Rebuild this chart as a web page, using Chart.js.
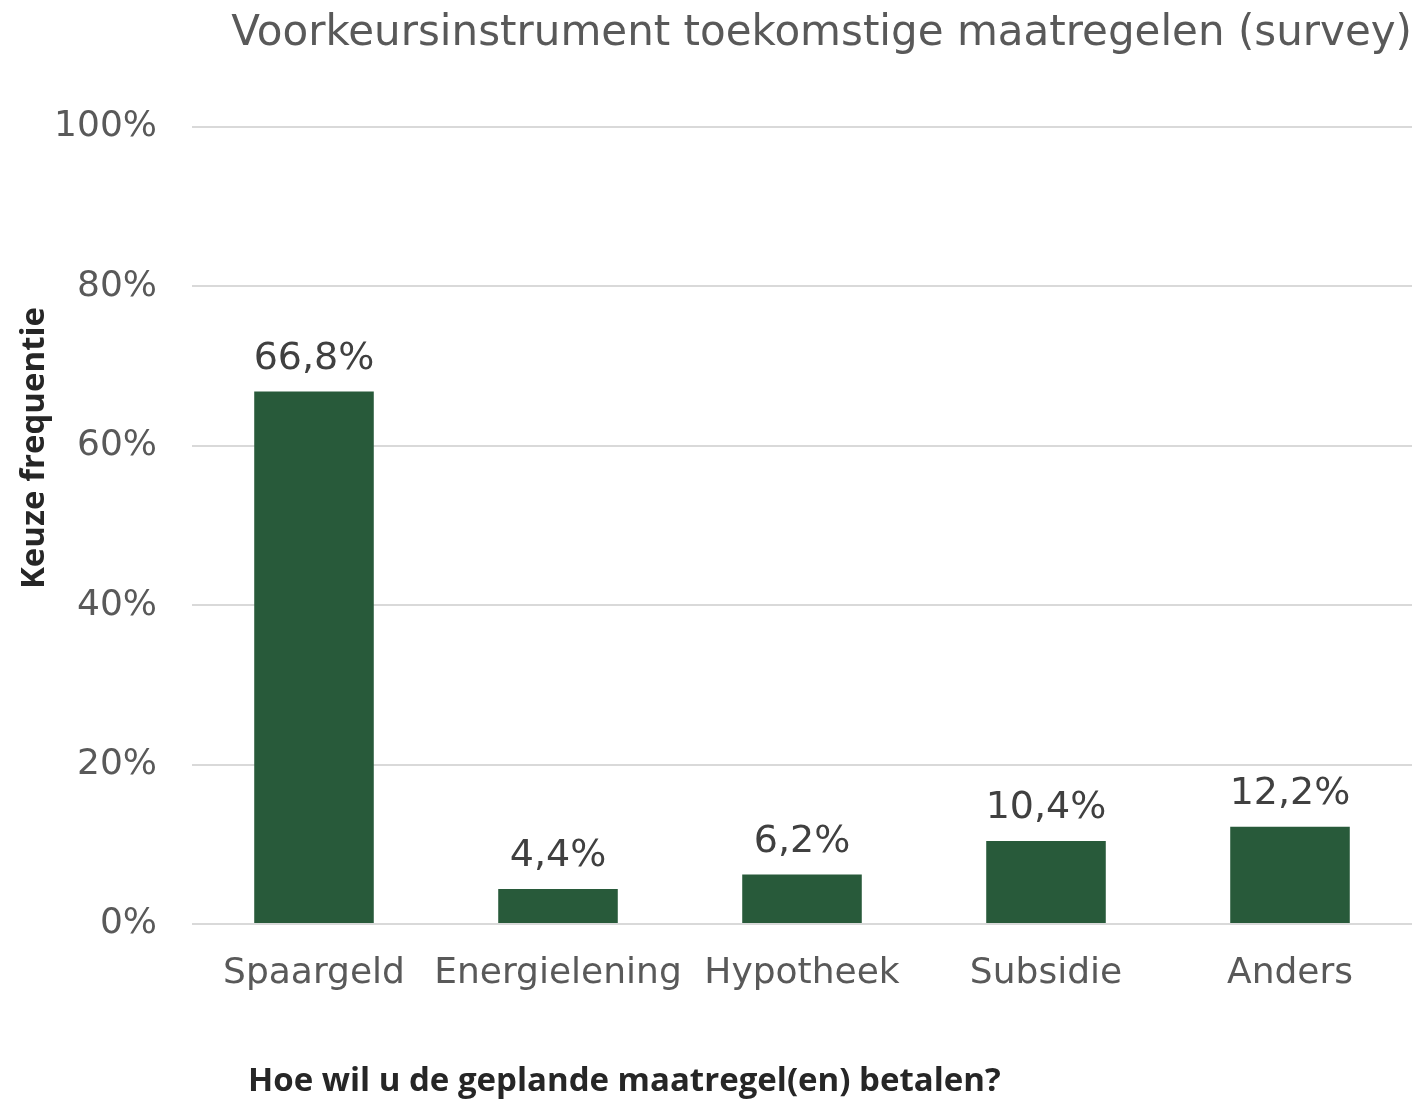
<!DOCTYPE html>
<html>
<head>
<meta charset="utf-8">
<script src="https://cdn.jsdelivr.net/npm/chart.js@4"></script>
<style>
  html, body { margin: 0; padding: 0; background: #ffffff; }
  #wrap { width: 1421px; height: 1102px; }
</style>
</head>
<body>
<div id="wrap"><canvas id="c" width="1421" height="1102"></canvas></div>
<script>
const chartTitle = "Voorkeursinstrument toekomstige maatregelen (survey)";
const xAxisTitle = "Hoe wil u de geplande maatregel(en) betalen?";
const yAxisTitle = "Keuze frequentie";
const categories = ["Spaargeld", "Energielening", "Hypotheek", "Subsidie", "Anders"];
const shares = [66.8, 4.4, 6.2, 10.4, 12.2];
const yTicks = [0, 20, 40, 60, 80, 100];

const TICK_FONT = "'DejaVu Sans', Verdana, sans-serif";
const BOLD_FONT = "'Open Sans', 'Noto Sans', sans-serif";

const fmt = v => v.toFixed(1).replace('.', ',') + '%';

const extras = {
  id: 'extras',
  afterDatasetsDraw(chart) {
    const ctx = chart.ctx;
    const meta = chart.getDatasetMeta(0);
    ctx.save();
    ctx.fillStyle = '#404040';
    ctx.font = "38px " + TICK_FONT;
    ctx.textAlign = 'center';
    ctx.textBaseline = 'alphabetic';
    meta.data.forEach((bar, i) => {
      ctx.fillText(fmt(shares[i]), bar.x, bar.y - 23);
    });
    ctx.restore();
  },
  afterDraw(chart) {
    const ctx = chart.ctx;
    const area = chart.chartArea;
    ctx.save();
    ctx.fillStyle = '#262626';
    ctx.font = "bold 33px " + BOLD_FONT;
    ctx.textBaseline = 'alphabetic';
    ctx.textAlign = 'left';
    ctx.fillText(xAxisTitle, area.left + 56, 1091);
    ctx.translate(35, 448);
    ctx.rotate(-Math.PI / 2);
    ctx.textAlign = 'center';
    ctx.textBaseline = 'middle';
    ctx.fillText(yAxisTitle, 0, 0);
    ctx.restore();
  }
};

new Chart(document.getElementById('c'), {
  type: 'bar',
  data: {
    labels: categories,
    datasets: [{
      data: shares,
      backgroundColor: '#285a3a',
      borderWidth: 0,
      barPercentage: 0.49,
      categoryPercentage: 1.0
    }]
  },
  options: {
    responsive: false,
    animation: false,
    layout: { padding: { left: 0, right: 9, top: 0, bottom: 0 } },
    plugins: {
      legend: { display: false },
      tooltip: { enabled: false },
      title: {
        display: true,
        text: chartTitle,
        align: 'end',
        color: '#595959',
        font: { family: TICK_FONT, size: 42, weight: 'normal', lineHeight: 1.2 },
        padding: { top: 9, bottom: 67.6 }
      }
    },
    scales: {
      x: {
        grid: { display: false, drawTicks: false },
        border: { display: false },
        ticks: {
          color: '#595959',
          font: { family: TICK_FONT, size: 36 },
          padding: 28,
          maxRotation: 0,
          autoSkip: false
        },
        afterFit(scale) { scale.height = 178; }
      },
      y: {
        min: 0,
        max: 100,
        afterBuildTicks(scale) { scale.ticks = yTicks.map(v => ({ value: v })); },
        grid: { color: '#d9d9d9', lineWidth: 2, drawTicks: false },
        border: { display: false },
        ticks: {
          color: '#595959',
          font: { family: TICK_FONT, size: 36 },
          padding: 35,
          callback: v => v + '%'
        },
        afterFit(scale) { scale.width = 192; }
      }
    }
  },
  plugins: [extras]
});
</script>
</body>
</html>
